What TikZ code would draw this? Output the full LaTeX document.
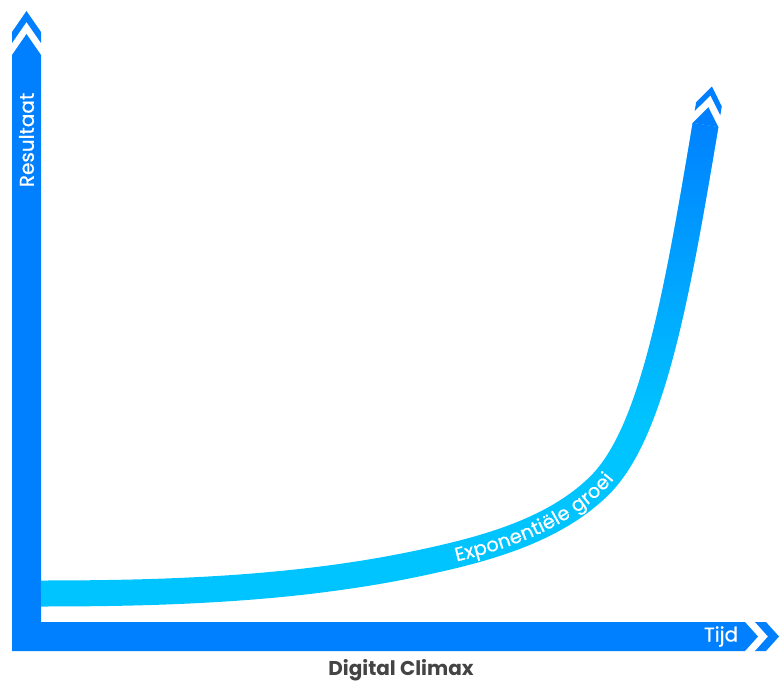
\documentclass[tikz,border=0pt]{standalone}
\usepackage{fontspec}
\setmainfont{Poppins}
\newfontfamily\labelfont{Poppins}[FakeBold=0.6]
\usetikzlibrary{decorations.text,fadings}

\definecolor{axisblue}{RGB}{0,128,255}
\definecolor{curvecyan}{RGB}{0,196,255}
\definecolor{labelgray}{RGB}{68,68,68}

\begin{tikzfadingfrompicture}[name=fade up,x=0.75pt,y=-0.75pt]
  \fill[transparent!100] (-400,-320) rectangle (400,320);
  \fill[transparent!0] (-400,-320) rectangle (400,-230);
  \shade[top color=transparent!0,bottom color=transparent!100] (-400,-230) rectangle (400,80);
\end{tikzfadingfrompicture}

\begin{document}
\begin{tikzpicture}[x=0.75pt,y=-0.75pt,
    axislabel/.style={text=white,font=\labelfont\fontsize{15}{15}\selectfont},
    band/.style={line width=19.5pt}]

  \useasboundingbox (0,0) rectangle (781,684);

  % axes
  \fill[axisblue] (12,651) -- (12,55) -- (26.5,34) -- (41,55) -- (41,622)
    -- (745,622) -- (758,636.5) -- (745,651) -- cycle;

  \begin{scope}[shift={(26.5,55)},rotate=90]
    \fill[axisblue] (12,14.5) -- (33,0) -- (12,-14.5) -- (23,-14.5) -- (44,0) -- (23,14.5) -- cycle;
  \end{scope}

  \begin{scope}[shift={(745,636.5)}]
    \fill[axisblue] (10,14.5) -- (23,0) -- (10,-14.5) -- (21,-14.5) -- (34,0) -- (21,14.5) -- cycle;
  \end{scope}

  \node[axislabel,rotate=90] (result) at (26.5,140) {Resultaat};
  \node[axislabel] (time) at (721,636.5) {Tijd};
  \node[text=labelgray,font=\fontsize{15}{15}\selectfont\bfseries] (title) at (401,670) {Digital Climax};

  % growth curve
  \coordinate (c0) at (41,593.5);
  \coordinate (c1) at (420,563);
  \coordinate (c2) at (600,485);
  \coordinate (c3) at (705.5,125);

  \draw[band,curvecyan] (c0) .. controls (167,593.5) and (296.8,589.2) .. (c1)
    .. controls (483.6,549.5) and (554,531) .. (c2)
    .. controls (653,432) and (677.4,292.6) .. (c3);
  \draw[band,axisblue,path fading=fade up,fit fading=false,fading transform={shift={(390.5,342)}}]
    (c0) .. controls (167,593.5) and (296.8,589.2) .. (c1)
    .. controls (483.6,549.5) and (554,531) .. (c2)
    .. controls (653,432) and (677.4,292.6) .. (c3);

  \begin{scope}[shift={(c3)},rotate=80.5]
    \fill[axisblue] (0,13) -- (18,0) -- (0,-13) -- cycle;
    \fill[axisblue] (12,13) -- (30,0) -- (12,-13) -- (21,-13) -- (39,0) -- (21,13) -- cycle;
  \end{scope}

  \path[decorate,decoration={text along path,
      text={|\labelfont\fontsize{14.5}{14.5}\selectfont|Exponentiële groei},
      text color=white,text align={left indent=27pt},raise=-5pt}]
    (c1) .. controls (483.6,549.5) and (554,531) .. (c2)
    .. controls (653,432) and (677.4,292.6) .. (c3);

\end{tikzpicture}
\end{document}
